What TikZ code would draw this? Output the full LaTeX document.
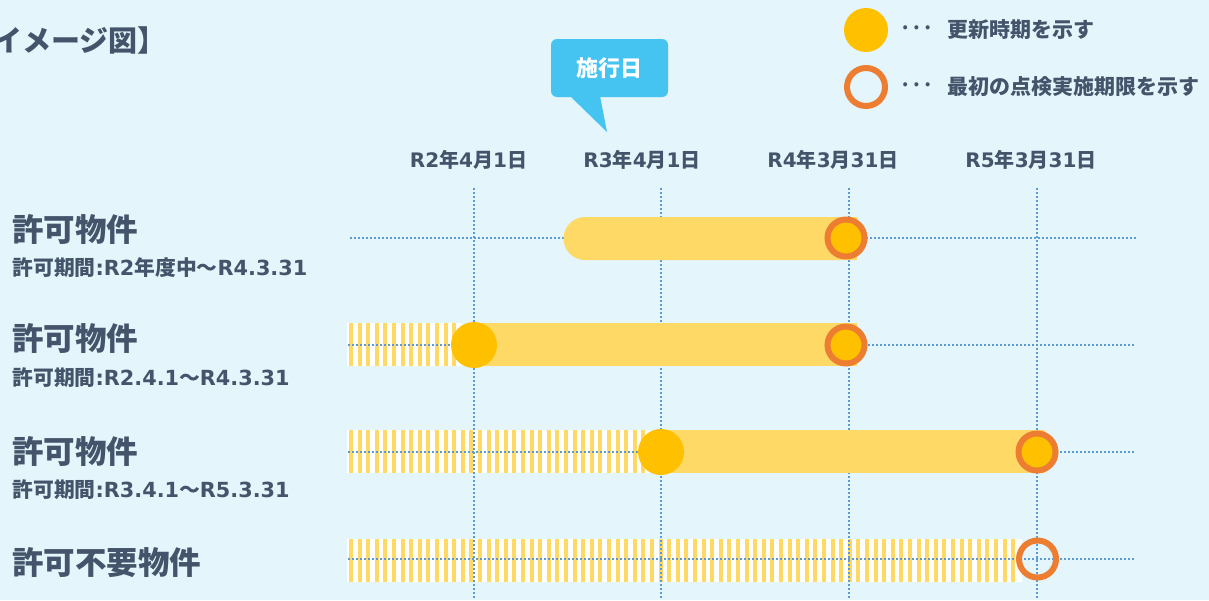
\documentclass[tikz,border=0pt]{standalone}
\usepackage{fontspec}
\setmainfont{Noto Sans CJK JP}
\newfontfamily\lat{DejaVu Sans}
\newcommand{\ltn}[1]{{\lat #1}}
\definecolor{bg}{HTML}{E4F5FC}
\definecolor{ink}{HTML}{44546A}
\definecolor{gridblue}{HTML}{5B9BD5}
\definecolor{barcol}{HTML}{FFD966}
\definecolor{dotcol}{HTML}{FFC000}
\definecolor{ringcol}{HTML}{ED7D31}
\definecolor{callout}{HTML}{45C4F1}
\tikzset{
  txt/.style={text=ink,font=\bfseries,inner sep=0pt},
  datelbl/.style={txt,font=\bfseries\fontsize{10pt}{12pt}\selectfont},
  rowlbl/.style={txt,anchor=west,font=\bfseries\fontsize{15.75pt}{18pt}\selectfont},
  period/.style={txt,anchor=west,font=\bfseries\fontsize{10.4pt}{12pt}\selectfont},
  grid/.style={draw=gridblue,line width=1pt,dash pattern=on 1pt off 1pt},
  bar/.style={fill=barcol},
  stripe/.style={fill=barcol},
  update/.style={fill=dotcol},
  ring/.style={draw=ringcol,line width=3pt}
}
\begin{document}
\begin{tikzpicture}[x=0.5pt,y=-0.5pt]

	% background
	\fill[bg] (0,0) rectangle (1209,600);
	\useasboundingbox (0,0) rectangle (1209,600);

	% title
	\node[txt,anchor=west,font=\bfseries\fontsize{14.5pt}{16pt}\selectfont] (title) at (-7,40) {イメージ図】};

	% legend
	\fill[update] (866,30) circle[radius=22];
	\draw[ring] (866,87) circle[radius=19];
	\node[txt,font=\fontsize{15pt}{17pt}\selectfont] (dots1) at (916,28) {…};
	\node[txt,font=\fontsize{15pt}{17pt}\selectfont] (dots2) at (916,85) {…};
	\node[txt,anchor=west,font=\bfseries\fontsize{10.5pt}{12pt}\selectfont] (leg1) at (947,30) {更新時期を示す};
	\node[txt,anchor=west,font=\bfseries\fontsize{10.5pt}{12pt}\selectfont] (leg2) at (947,87) {最初の点検実施期限を示す};

	% callout
	\node[fill=callout,rounded corners=3pt,minimum width=58.5pt,minimum height=29pt,text=white,font=\bfseries\fontsize{11pt}{13pt}\selectfont] (start) at (609.5,68) {施行日};
	\coordinate (tip) at (607,132);
	\fill[callout] (570,96) -- (tip) -- (600,96) -- cycle;

	% dates
	\node[datelbl] (d1) at (468.5,160) {\ltn{R2}年\ltn{4}月\ltn{1}日};
	\node[datelbl] (d2) at (642,160) {\ltn{R3}年\ltn{4}月\ltn{1}日};
	\node[datelbl] (d3) at (833,160) {\ltn{R4}年\ltn{3}月\ltn{31}日};
	\node[datelbl] (d4) at (1031,160) {\ltn{R5}年\ltn{3}月\ltn{31}日};

	% row labels
	\node[rowlbl] (r1) at (12,229) {許可物件};
	\node[period] (p1) at (12,268) {許可期間\ltn{:R2}年度中～\ltn{R4.3.31}};
	\node[rowlbl] (r2) at (12,338) {許可物件};
	\node[period] (p2) at (12,378) {許可期間\ltn{:R2.4.1}～\ltn{R4.3.31}};
	\node[rowlbl] (r3) at (12,451) {許可物件};
	\node[period] (p3) at (12,490) {許可期間\ltn{:R3.4.1}～\ltn{R5.3.31}};
	\node[rowlbl] (r4) at (12,563) {許可不要物件};

	% striped parts
	\fill[white] (347,323) rectangle (462,366);
	\foreach \x in {349,357.6,...,458} \fill[stripe] (\x,323) rectangle ++(4,43);
	\fill[white] (347,430) rectangle (650,473);
	\foreach \x in {349,357.6,...,646} \fill[stripe] (\x,430) rectangle ++(4,43);
	\fill[white] (347,539) rectangle (1022,582);
	\foreach \x in {349,357.6,...,1018} \fill[stripe] (\x,539) rectangle ++(4,43);

	% dotted grid
	\foreach \n/\x in {1/474,2/661,3/849,4/1037}{
		\coordinate (top\n) at (\x,188);
		\coordinate (bot\n) at (\x,600);
		\draw[grid] (top\n) -- (bot\n);
	}
	\foreach \n/\y/\a/\b in {1/238/350/1137,2/345/348/1135,3/452/348/1135,4/559/348/1135}{
		\coordinate (left\n) at (\a,\y);
		\coordinate (right\n) at (\b,\y);
		\draw[grid] (left\n) -- (right\n);
	}

	% bars
	\fill[bar] (857,217) -- (585,217) arc[start angle=270,end angle=90,radius=21.5] -- (857,260) -- cycle;
	\fill[bar] (474,323) rectangle (857,366);
	\fill[bar] (661,430) rectangle (1045,473);

	% renewal dates
	\fill[update] (474,345) circle[radius=23];
	\fill[update] (661,452) circle[radius=23];

	% first inspection limits
	\filldraw[ring,fill=dotcol] (846,238) circle[radius=18.5];
	\filldraw[ring,fill=dotcol] (846,345) circle[radius=18.5];
	\filldraw[ring,fill=dotcol] (1037,452) circle[radius=18.5];
	\draw[ring] (1037.5,559) circle[radius=18.5];

\end{tikzpicture}
\end{document}
